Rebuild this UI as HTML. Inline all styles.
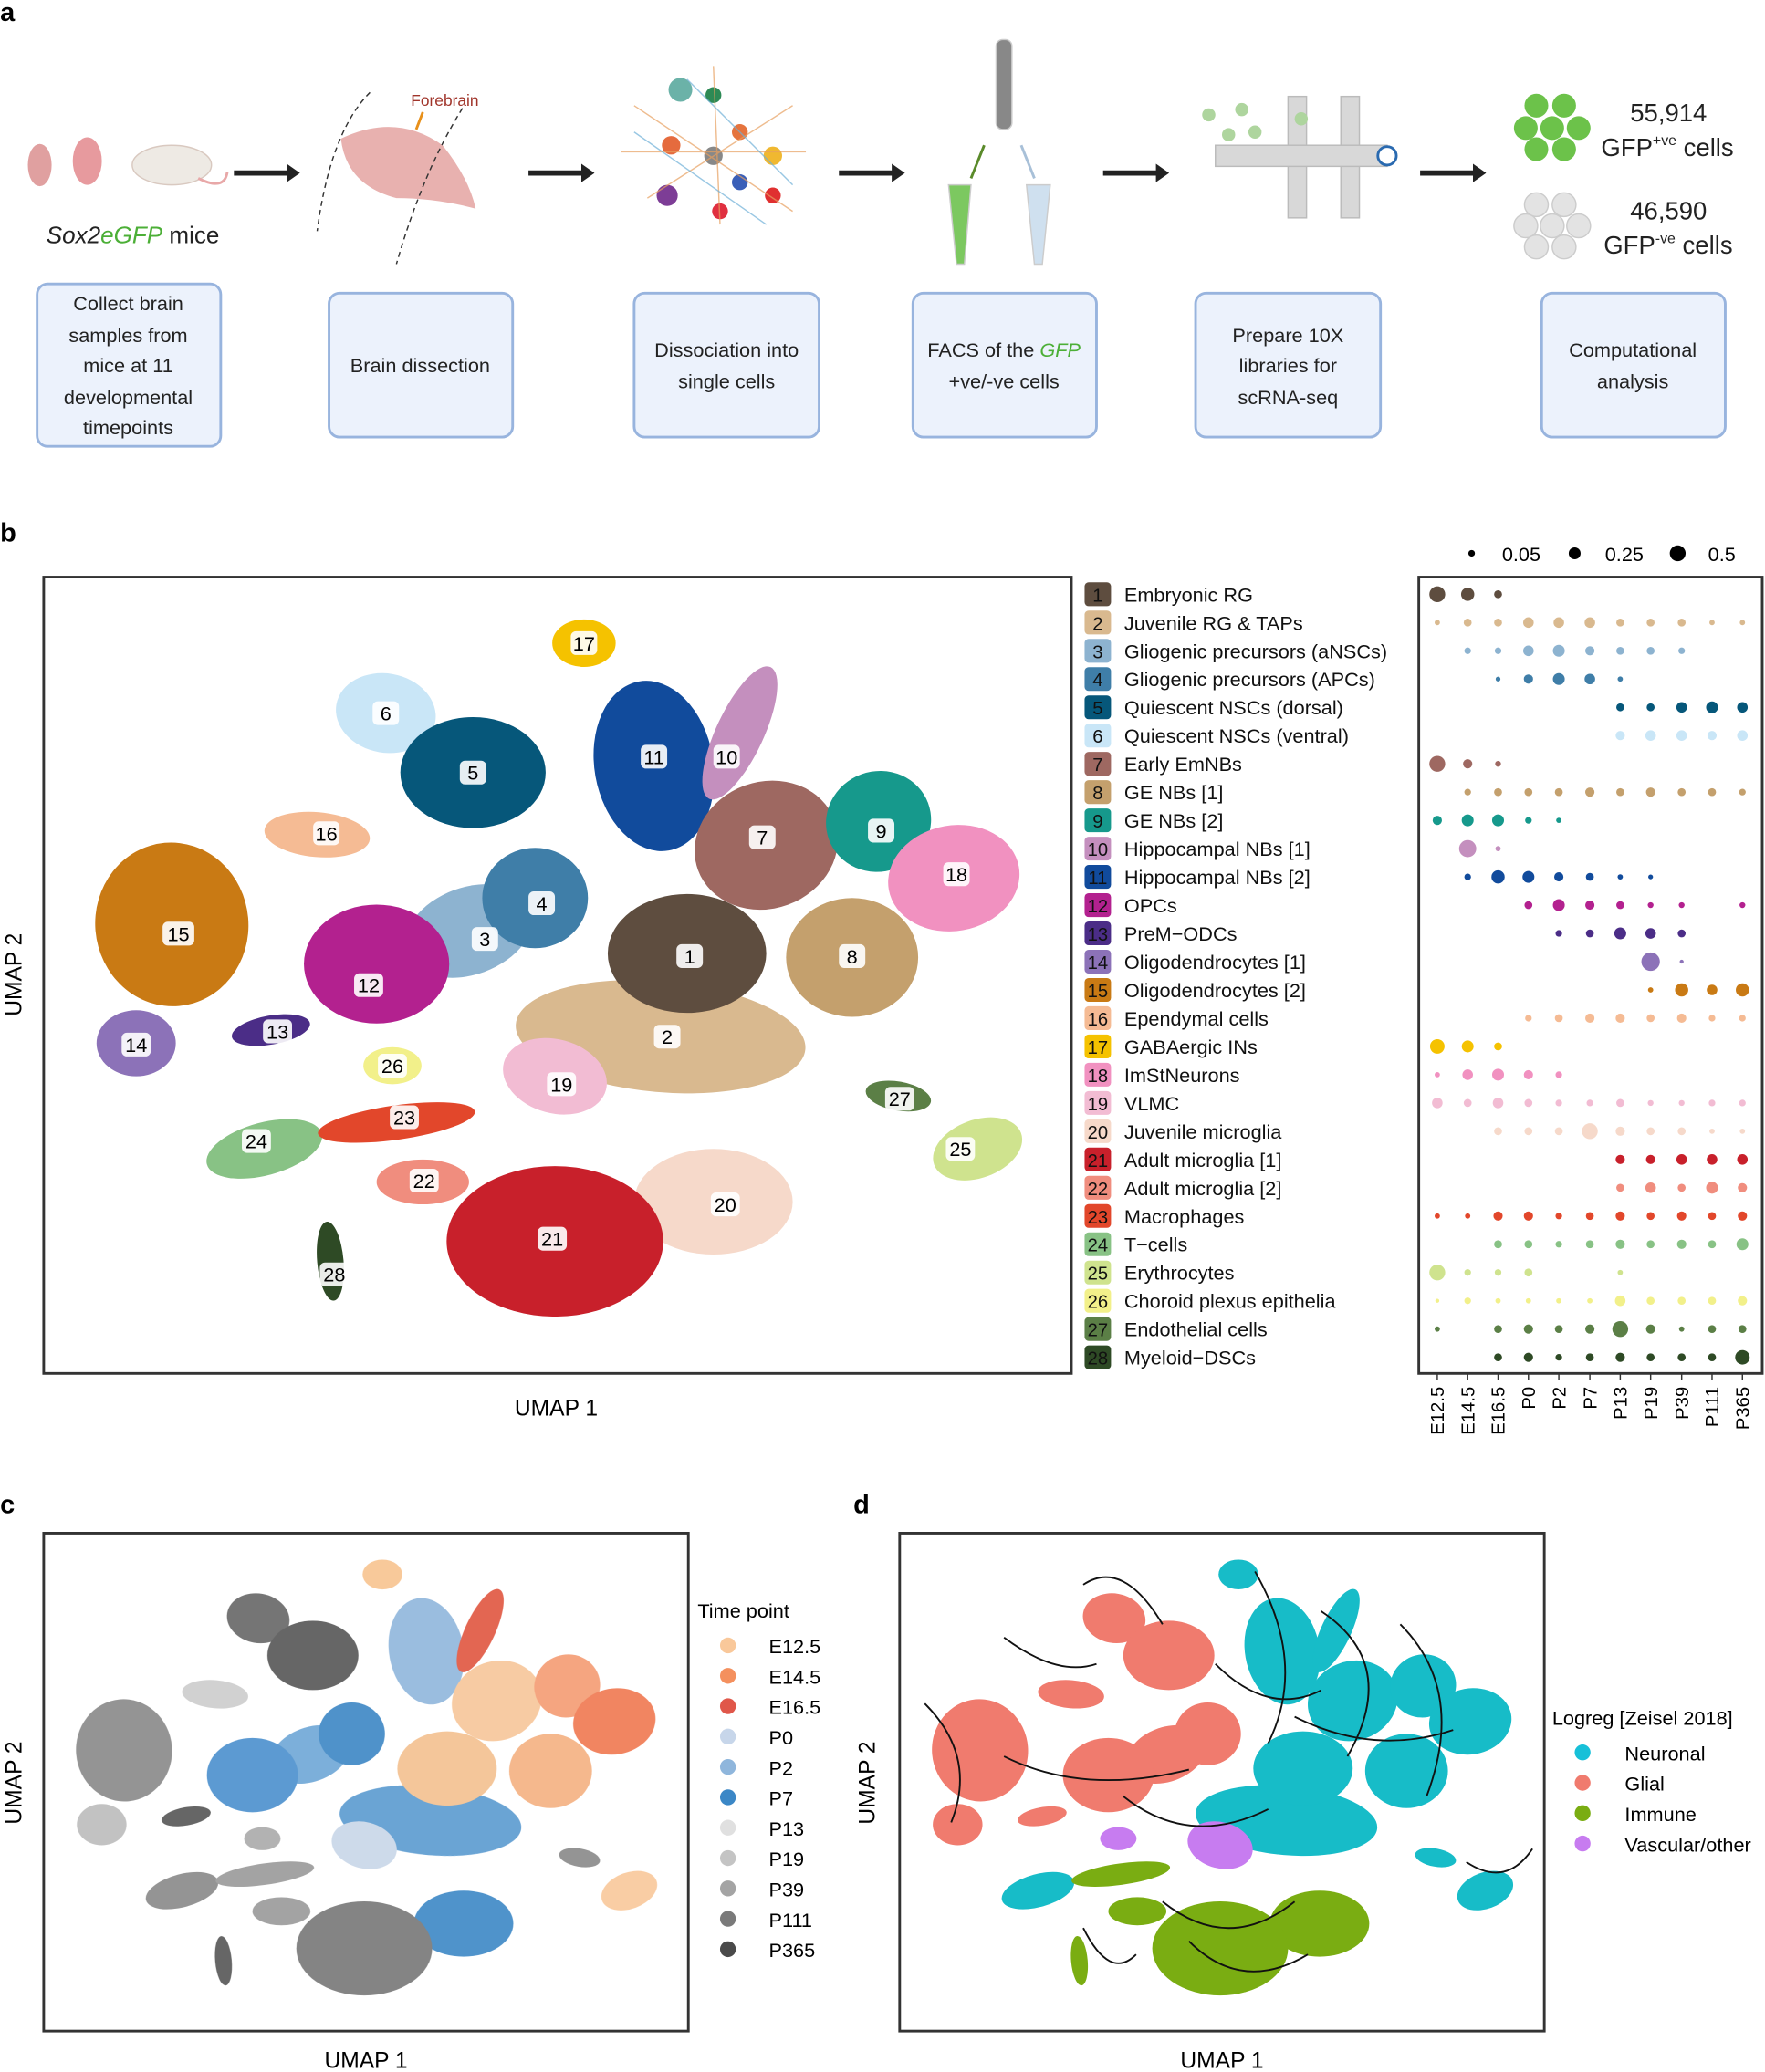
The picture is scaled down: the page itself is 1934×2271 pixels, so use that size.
<!DOCTYPE html>
<html><head><meta charset="utf-8"><style>
html,body{margin:0;padding:0;background:#fff}
svg{display:block}
text{font-family:"Liberation Sans",sans-serif}
.lb rect{fill:#fff;opacity:.9}
.lb text{font-size:15px;text-anchor:middle}
.lg text.n{font-size:14px;text-anchor:middle;fill:#111}
.lg text.t{font-size:15px;fill:#111}
</style></head><body>
<svg xmlns="http://www.w3.org/2000/svg" width="1934" height="2271" viewBox="0 0 1336 1569">
<rect width="1336" height="1569" fill="#fff"/>
<g font-weight="bold" font-size="20" fill="#000">
<text x="0" y="16">a</text><text x="0" y="410">b</text><text x="0" y="1146">c</text><text x="646" y="1146">d</text>
</g>
<!-- panel a -->
<g>
<ellipse cx="30" cy="125" rx="9" ry="16" fill="#e0a0a0"/>
<ellipse cx="66" cy="122" rx="11" ry="18" fill="#e79a9e"/>
<ellipse cx="130" cy="125" rx="30" ry="15" fill="#eeeae4" stroke="#d9c9c0"/>
<path d="M150 135 Q170 145 172 130" stroke="#e8a8a8" fill="none" stroke-width="2"/>
<text x="35" y="184" font-size="18" font-style="italic" fill="#222">Sox2<tspan fill="#4caf37">eGFP</tspan><tspan font-style="normal"> mice</tspan></text>
<path d="M258 105 Q300 85 335 110 Q355 135 360 158 Q330 150 300 150 Q262 140 258 105Z" fill="#e6a9a6" opacity="0.9"/>
<text x="311" y="80" font-size="12" fill="#a0342a">Forebrain</text>
<line x1="320" y1="85" x2="315" y2="98" stroke="#e8901a" stroke-width="2"/>
<path d="M280 70 Q250 100 240 175" stroke="#333" stroke-dasharray="4 3" fill="none"/>
<path d="M350 82 Q320 130 300 200" stroke="#333" stroke-dasharray="4 3" fill="none"/>
<circle cx="515" cy="68" r="9" fill="#6bb2a8"/><circle cx="540" cy="72" r="6" fill="#2d8a55"/>
<circle cx="508" cy="110" r="7" fill="#e56b3e"/><circle cx="540" cy="118" r="7" fill="#888"/>
<circle cx="585" cy="118" r="7" fill="#f0b830"/><circle cx="505" cy="148" r="8" fill="#7d3d96"/>
<circle cx="560" cy="138" r="6" fill="#3a5fb8"/><circle cx="585" cy="148" r="6" fill="#e03030"/>
<circle cx="545" cy="160" r="6" fill="#e03040"/><circle cx="560" cy="100" r="6" fill="#e5743e"/>
<path d="M480 80 L600 160 M490 150 L600 80 M540 50 L545 170 M470 115 L610 115" stroke="#e8a060" stroke-width="1" opacity="0.7"/>
<path d="M480 100 L580 170 M520 60 L600 140" stroke="#6fb0d8" stroke-width="1" opacity="0.7"/>
<rect x="754" y="30" width="12" height="68" rx="5" fill="#888" stroke="#ccc"/>
<path d="M718 140 L735 140 L730 200 L724 200 Z" fill="#7cc860" stroke="#ccc"/>
<path d="M777 140 L795 140 L789 200 L783 200 Z" fill="#cfe0ef" stroke="#ccc"/>
<line x1="745" y1="110" x2="735" y2="135" stroke="#5a8a2a" stroke-width="2"/>
<line x1="773" y1="110" x2="783" y2="135" stroke="#a8c0d8" stroke-width="2"/>
<rect x="975" y="73" width="14" height="92" fill="#d8d8d8" stroke="#bbb"/>
<rect x="1015" y="73" width="14" height="92" fill="#d8d8d8" stroke="#bbb"/>
<rect x="920" y="110" width="130" height="16" fill="#d8d8d8" stroke="#bbb"/>
<circle cx="1050" cy="118" r="7" fill="#fff" stroke="#2a6ab0" stroke-width="2"/>
<g fill="#aed59e"><circle cx="915" cy="87" r="5"/><circle cx="940" cy="83" r="5"/><circle cx="930" cy="102" r="5"/><circle cx="950" cy="100" r="5"/><circle cx="985" cy="90" r="5"/></g>
<g fill="#6cc24a"><circle cx="1163" cy="80" r="9"/><circle cx="1184" cy="80" r="9"/><circle cx="1155" cy="97" r="9"/><circle cx="1175" cy="97" r="9"/><circle cx="1195" cy="97" r="9"/><circle cx="1163" cy="113" r="9"/><circle cx="1184" cy="113" r="9"/></g>
<g fill="#e3e3e3" stroke="#ccc"><circle cx="1163" cy="155" r="9"/><circle cx="1184" cy="155" r="9"/><circle cx="1155" cy="171" r="9"/><circle cx="1175" cy="171" r="9"/><circle cx="1195" cy="171" r="9"/><circle cx="1163" cy="187" r="9"/><circle cx="1184" cy="187" r="9"/></g>
<text x="1234" y="92" font-size="19" fill="#222">55,914</text>
<text x="1212" y="118" font-size="19" fill="#222">GFP<tspan font-size="11" dy="-8">+ve</tspan><tspan dy="8"> cells</tspan></text>
<text x="1234" y="166" font-size="19" fill="#222">46,590</text>
<text x="1214" y="192" font-size="19" fill="#222">GFP<tspan font-size="11" dy="-8">-ve</tspan><tspan dy="8"> cells</tspan></text>
<g fill="#222"><path d="M177 129 h40 v-5 l10 7 -10 7 v-5 h-40z"/><path d="M400 129 h40 v-5 l10 7 -10 7 v-5 h-40z"/><path d="M635 129 h40 v-5 l10 7 -10 7 v-5 h-40z"/><path d="M835 129 h40 v-5 l10 7 -10 7 v-5 h-40z"/><path d="M1075 129 h40 v-5 l10 7 -10 7 v-5 h-40z"/></g>
<g fill="#ecf2fc" stroke="#98b4de" stroke-width="2">
<rect x="28" y="215" width="139" height="123" rx="8"/><rect x="249" y="222" width="139" height="109" rx="8"/><rect x="480" y="222" width="140" height="109" rx="8"/><rect x="691" y="222" width="139" height="109" rx="8"/><rect x="905" y="222" width="140" height="109" rx="8"/><rect x="1167" y="222" width="139" height="109" rx="8"/>
</g>
<g font-size="15" fill="#222" text-anchor="middle">
<text x="97" y="235">Collect brain</text><text x="97" y="259">samples from</text><text x="97" y="282">mice at 11</text><text x="97" y="306">developmental</text><text x="97" y="329">timepoints</text>
<text x="318" y="282">Brain dissection</text>
<text x="550" y="270">Dissociation into</text><text x="550" y="294">single cells</text>
<text x="760" y="270">FACS of the <tspan fill="#4caf37" font-style="italic">GFP</tspan></text><text x="760" y="294">+ve/-ve cells</text>
<text x="975" y="259">Prepare 10X</text><text x="975" y="282">libraries for</text><text x="975" y="306">scRNA-seq</text>
<text x="1236" y="270">Computational</text><text x="1236" y="294">analysis</text>
</g>
</g>

<!-- panel b UMAP -->
<g>
<ellipse cx="500" cy="785" rx="110" ry="42" transform="rotate(5 500 785)" fill="#d9b98f"/>
<ellipse cx="442" cy="487" rx="24" ry="18" fill="#f5c200"/>
<ellipse cx="292" cy="540" rx="38" ry="30" transform="rotate(10 292 540)" fill="#c9e6f7"/>
<ellipse cx="358" cy="585" rx="55" ry="42" fill="#06577a"/>
<ellipse cx="495" cy="580" rx="45" ry="65" transform="rotate(-10 495 580)" fill="#114b9c"/>
<ellipse cx="560" cy="555" rx="18" ry="55" transform="rotate(25 560 555)" fill="#c48fbe"/>
<ellipse cx="580" cy="640" rx="55" ry="48" transform="rotate(-20 580 640)" fill="#9e6861"/>
<ellipse cx="665" cy="622" rx="40" ry="38" transform="rotate(-20 665 622)" fill="#16998c"/>
<ellipse cx="722" cy="665" rx="50" ry="40" transform="rotate(-10 722 665)" fill="#f191c0"/>
<ellipse cx="240" cy="632" rx="40" ry="17" transform="rotate(5 240 632)" fill="#f5bb94"/>
<ellipse cx="355" cy="705" rx="50" ry="33" transform="rotate(-20 355 705)" fill="#8db3d0"/>
<ellipse cx="405" cy="680" rx="40" ry="38" fill="#3f7ea8"/>
<ellipse cx="520" cy="722" rx="60" ry="45" fill="#5e4d3f"/>
<ellipse cx="645" cy="725" rx="50" ry="45" fill="#c4a06d"/>
<ellipse cx="130" cy="700" rx="58" ry="62" transform="rotate(-5 130 700)" fill="#c97a14"/>
<ellipse cx="285" cy="730" rx="55" ry="45" fill="#b3218f"/>
<ellipse cx="103" cy="790" rx="30" ry="25" fill="#8c72b8"/>
<ellipse cx="205" cy="780" rx="30" ry="11" transform="rotate(-10 205 780)" fill="#4b2d87"/>
<ellipse cx="297" cy="807" rx="22" ry="14" fill="#f2f08a"/>
<ellipse cx="420" cy="815" rx="40" ry="28" transform="rotate(15 420 815)" fill="#f2bcd3"/>
<ellipse cx="680" cy="830" rx="25" ry="11" transform="rotate(10 680 830)" fill="#5b7f46"/>
<ellipse cx="740" cy="870" rx="35" ry="22" transform="rotate(-20 740 870)" fill="#cfe38e"/>
<ellipse cx="200" cy="870" rx="45" ry="20" transform="rotate(-15 200 870)" fill="#88c285"/>
<ellipse cx="300" cy="850" rx="60" ry="13" transform="rotate(-8 300 850)" fill="#e2472b"/>
<ellipse cx="320" cy="895" rx="35" ry="17" fill="#f08d7e"/>
<ellipse cx="540" cy="910" rx="60" ry="40" fill="#f6d9ca"/>
<ellipse cx="420" cy="940" rx="82" ry="57" fill="#c8202b"/>
<ellipse cx="250" cy="955" rx="10" ry="30" transform="rotate(-5 250 955)" fill="#2e4a25"/>
</g>
<g class="lb">
<rect x="432" y="478" width="20" height="18" rx="4"/><text x="442" y="492.5">17</text>
<rect x="282" y="531" width="20" height="18" rx="4"/><text x="292" y="545.5">6</text>
<rect x="348" y="576" width="20" height="18" rx="4"/><text x="358" y="590.5">5</text>
<rect x="485" y="564" width="20" height="18" rx="4"/><text x="495" y="578.5">11</text>
<rect x="540" y="564" width="20" height="18" rx="4"/><text x="550" y="578.5">10</text>
<rect x="567" y="625" width="20" height="18" rx="4"/><text x="577" y="639.5">7</text>
<rect x="657" y="620" width="20" height="18" rx="4"/><text x="667" y="634.5">9</text>
<rect x="714" y="653" width="20" height="18" rx="4"/><text x="724" y="667.5">18</text>
<rect x="237" y="622" width="20" height="18" rx="4"/><text x="247" y="636.5">16</text>
<rect x="400" y="675" width="20" height="18" rx="4"/><text x="410" y="689.5">4</text>
<rect x="357" y="702" width="20" height="18" rx="4"/><text x="367" y="716.5">3</text>
<rect x="512" y="715" width="20" height="18" rx="4"/><text x="522" y="729.5">1</text>
<rect x="635" y="715" width="20" height="18" rx="4"/><text x="645" y="729.5">8</text>
<rect x="123" y="698" width="24" height="18" rx="4"/><text x="135" y="712.5">15</text>
<rect x="268" y="737" width="22" height="18" rx="4"/><text x="279" y="751.5">12</text>
<rect x="495" y="776" width="20" height="18" rx="4"/><text x="505" y="790.5">2</text>
<rect x="92" y="782" width="22" height="18" rx="4"/><text x="103" y="796.5">14</text>
<rect x="199" y="772" width="22" height="18" rx="4"/><text x="210" y="786.5">13</text>
<rect x="286" y="798" width="22" height="18" rx="4"/><text x="297" y="812.5">26</text>
<rect x="414" y="812" width="22" height="18" rx="4"/><text x="425" y="826.5">19</text>
<rect x="670" y="823" width="22" height="18" rx="4"/><text x="681" y="837.5">27</text>
<rect x="716" y="861" width="22" height="18" rx="4"/><text x="727" y="875.5">25</text>
<rect x="183" y="855" width="22" height="18" rx="4"/><text x="194" y="869.5">24</text>
<rect x="295" y="837" width="22" height="18" rx="4"/><text x="306" y="851.5">23</text>
<rect x="310" y="885" width="22" height="18" rx="4"/><text x="321" y="899.5">22</text>
<rect x="538" y="903" width="22" height="18" rx="4"/><text x="549" y="917.5">20</text>
<rect x="407" y="929" width="22" height="18" rx="4"/><text x="418" y="943.5">21</text>
<rect x="242" y="956" width="22" height="18" rx="4"/><text x="253" y="970.5">28</text>
</g>

<!-- panel c UMAP -->
<g transform="translate(12.3,887.9) scale(0.627,0.625)" opacity="0.9">
<ellipse cx="500" cy="785" rx="110" ry="42" transform="rotate(5 500 785)" fill="#5a9ad0"/>
<ellipse cx="442" cy="487" rx="24" ry="18" fill="#f8c38f"/>
<ellipse cx="292" cy="540" rx="38" ry="30" transform="rotate(10 292 540)" fill="#666"/>
<ellipse cx="358" cy="585" rx="55" ry="42" fill="#555"/>
<ellipse cx="495" cy="580" rx="45" ry="65" transform="rotate(-10 495 580)" fill="#8fb6dc"/>
<ellipse cx="560" cy="555" rx="18" ry="55" transform="rotate(25 560 555)" fill="#e0553f"/>
<ellipse cx="580" cy="640" rx="55" ry="48" transform="rotate(-20 580 640)" fill="#f7c699"/>
<ellipse cx="665" cy="622" rx="40" ry="38" transform="rotate(-20 665 622)" fill="#f49b72"/>
<ellipse cx="722" cy="665" rx="50" ry="40" transform="rotate(-10 722 665)" fill="#f07850"/>
<ellipse cx="240" cy="632" rx="40" ry="17" transform="rotate(5 240 632)" fill="#ccc"/>
<ellipse cx="355" cy="705" rx="50" ry="33" transform="rotate(-20 355 705)" fill="#6ea6d6"/>
<ellipse cx="405" cy="680" rx="40" ry="38" fill="#3c86c5"/>
<ellipse cx="520" cy="722" rx="60" ry="45" fill="#f3c08f"/>
<ellipse cx="645" cy="725" rx="50" ry="45" fill="#f4b080"/>
<ellipse cx="130" cy="700" rx="58" ry="62" transform="rotate(-5 130 700)" fill="#888"/>
<ellipse cx="285" cy="730" rx="55" ry="45" fill="#4a8fcd"/>
<ellipse cx="103" cy="790" rx="30" ry="25" fill="#bbb"/>
<ellipse cx="205" cy="780" rx="30" ry="11" transform="rotate(-10 205 780)" fill="#555"/>
<ellipse cx="297" cy="807" rx="22" ry="14" fill="#aaa"/>
<ellipse cx="420" cy="815" rx="40" ry="28" transform="rotate(15 420 815)" fill="#c8d6e8"/>
<ellipse cx="680" cy="830" rx="25" ry="11" transform="rotate(10 680 830)" fill="#888"/>
<ellipse cx="740" cy="870" rx="35" ry="22" transform="rotate(-20 740 870)" fill="#f9c89a"/>
<ellipse cx="200" cy="870" rx="45" ry="20" transform="rotate(-15 200 870)" fill="#888"/>
<ellipse cx="300" cy="850" rx="60" ry="13" transform="rotate(-8 300 850)" fill="#999"/>
<ellipse cx="320" cy="895" rx="35" ry="17" fill="#999"/>
<ellipse cx="540" cy="910" rx="60" ry="40" fill="#3b87c6"/>
<ellipse cx="420" cy="940" rx="82" ry="57" fill="#777"/>
<ellipse cx="250" cy="955" rx="10" ry="30" transform="rotate(-5 250 955)" fill="#555"/>
</g>

<!-- panel d UMAP -->
<g transform="translate(660.3,887.9) scale(0.627,0.625)">
<ellipse cx="500" cy="785" rx="110" ry="42" transform="rotate(5 500 785)" fill="#17bcc8"/>
<ellipse cx="442" cy="487" rx="24" ry="18" fill="#17bcc8"/>
<ellipse cx="292" cy="540" rx="38" ry="30" transform="rotate(10 292 540)" fill="#f07b6e"/>
<ellipse cx="358" cy="585" rx="55" ry="42" fill="#f07b6e"/>
<ellipse cx="495" cy="580" rx="45" ry="65" transform="rotate(-10 495 580)" fill="#17bcc8"/>
<ellipse cx="560" cy="555" rx="18" ry="55" transform="rotate(25 560 555)" fill="#17bcc8"/>
<ellipse cx="580" cy="640" rx="55" ry="48" transform="rotate(-20 580 640)" fill="#17bcc8"/>
<ellipse cx="665" cy="622" rx="40" ry="38" transform="rotate(-20 665 622)" fill="#17bcc8"/>
<ellipse cx="722" cy="665" rx="50" ry="40" transform="rotate(-10 722 665)" fill="#17bcc8"/>
<ellipse cx="240" cy="632" rx="40" ry="17" transform="rotate(5 240 632)" fill="#f07b6e"/>
<ellipse cx="355" cy="705" rx="50" ry="33" transform="rotate(-20 355 705)" fill="#f07b6e"/>
<ellipse cx="405" cy="680" rx="40" ry="38" fill="#f07b6e"/>
<ellipse cx="520" cy="722" rx="60" ry="45" fill="#17bcc8"/>
<ellipse cx="645" cy="725" rx="50" ry="45" fill="#17bcc8"/>
<ellipse cx="130" cy="700" rx="58" ry="62" transform="rotate(-5 130 700)" fill="#f07b6e"/>
<ellipse cx="285" cy="730" rx="55" ry="45" fill="#f07b6e"/>
<ellipse cx="103" cy="790" rx="30" ry="25" fill="#f07b6e"/>
<ellipse cx="205" cy="780" rx="30" ry="11" transform="rotate(-10 205 780)" fill="#f07b6e"/>
<ellipse cx="297" cy="807" rx="22" ry="14" fill="#c77cf0"/>
<ellipse cx="420" cy="815" rx="40" ry="28" transform="rotate(15 420 815)" fill="#c77cf0"/>
<ellipse cx="680" cy="830" rx="25" ry="11" transform="rotate(10 680 830)" fill="#17bcc8"/>
<ellipse cx="740" cy="870" rx="35" ry="22" transform="rotate(-20 740 870)" fill="#17bcc8"/>
<ellipse cx="200" cy="870" rx="45" ry="20" transform="rotate(-15 200 870)" fill="#17bcc8"/>
<ellipse cx="300" cy="850" rx="60" ry="13" transform="rotate(-8 300 850)" fill="#7aad12"/>
<ellipse cx="320" cy="895" rx="35" ry="17" fill="#7aad12"/>
<ellipse cx="540" cy="910" rx="60" ry="40" fill="#7aad12"/>
<ellipse cx="420" cy="940" rx="82" ry="57" fill="#7aad12"/>
<ellipse cx="250" cy="955" rx="10" ry="30" transform="rotate(-5 250 955)" fill="#7aad12"/>
</g>
<g fill="none" stroke="#111" stroke-width="1.3">
<path d="M820 1200 Q850 1180 880 1230"/><path d="M950 1190 Q990 1260 960 1320"/><path d="M1000 1220 Q1060 1260 1020 1330"/>
<path d="M1060 1230 Q1110 1280 1080 1360"/><path d="M700 1290 Q740 1330 720 1380"/><path d="M760 1330 Q820 1360 900 1340"/>
<path d="M850 1360 Q900 1400 960 1370"/><path d="M880 1440 Q930 1480 980 1440"/><path d="M900 1470 Q940 1510 990 1480"/>
<path d="M920 1260 Q960 1300 1000 1280"/><path d="M1110 1410 Q1140 1430 1160 1400"/><path d="M820 1460 Q840 1500 860 1480"/>
<path d="M980 1300 Q1040 1330 1100 1310"/><path d="M760 1240 Q800 1270 830 1260"/>
</g>

<!-- frames -->
<g fill="none" stroke="#333" stroke-width="2">
<rect x="33" y="437" width="778" height="603"/>
<rect x="1074" y="437" width="260" height="603"/>
<rect x="33" y="1161" width="488" height="377"/>
<rect x="681" y="1161" width="488" height="377"/>
</g>
<g font-size="17" fill="#000" text-anchor="middle">
<text x="421" y="1072">UMAP 1</text>
<text transform="translate(16,738) rotate(-90)">UMAP 2</text>
<text x="277" y="1566">UMAP 1</text>
<text transform="translate(16,1350) rotate(-90)">UMAP 2</text>
<text x="925" y="1566">UMAP 1</text>
<text transform="translate(662,1350) rotate(-90)">UMAP 2</text>
</g>

<!-- legend b -->
<g class="lg">
<g transform="translate(0,450)"><rect x="821" y="-9" width="20" height="18" rx="3" fill="#5e4d3f"/><text class="n" x="831" y="5.5">1</text><text class="t" x="851" y="5.5">Embryonic RG</text></g>
<g transform="translate(0,471.4)"><rect x="821" y="-9" width="20" height="18" rx="3" fill="#d9b98f"/><text class="n" x="831" y="5.5">2</text><text class="t" x="851" y="5.5">Juvenile RG &amp; TAPs</text></g>
<g transform="translate(0,492.8)"><rect x="821" y="-9" width="20" height="18" rx="3" fill="#8db3d0"/><text class="n" x="831" y="5.5">3</text><text class="t" x="851" y="5.5">Gliogenic precursors (aNSCs)</text></g>
<g transform="translate(0,514.2)"><rect x="821" y="-9" width="20" height="18" rx="3" fill="#3f7ea8"/><text class="n" x="831" y="5.5">4</text><text class="t" x="851" y="5.5">Gliogenic precursors (APCs)</text></g>
<g transform="translate(0,535.6)"><rect x="821" y="-9" width="20" height="18" rx="3" fill="#06577a"/><text class="n" x="831" y="5.5">5</text><text class="t" x="851" y="5.5">Quiescent NSCs (dorsal)</text></g>
<g transform="translate(0,557)"><rect x="821" y="-9" width="20" height="18" rx="3" fill="#c9e6f7"/><text class="n" x="831" y="5.5">6</text><text class="t" x="851" y="5.5">Quiescent NSCs (ventral)</text></g>
<g transform="translate(0,578.4)"><rect x="821" y="-9" width="20" height="18" rx="3" fill="#9e6861"/><text class="n" x="831" y="5.5">7</text><text class="t" x="851" y="5.5">Early EmNBs</text></g>
<g transform="translate(0,599.8)"><rect x="821" y="-9" width="20" height="18" rx="3" fill="#c4a06d"/><text class="n" x="831" y="5.5">8</text><text class="t" x="851" y="5.5">GE NBs [1]</text></g>
<g transform="translate(0,621.2)"><rect x="821" y="-9" width="20" height="18" rx="3" fill="#16998c"/><text class="n" x="831" y="5.5">9</text><text class="t" x="851" y="5.5">GE NBs [2]</text></g>
<g transform="translate(0,642.6)"><rect x="821" y="-9" width="20" height="18" rx="3" fill="#c48fbe"/><text class="n" x="831" y="5.5">10</text><text class="t" x="851" y="5.5">Hippocampal NBs [1]</text></g>
<g transform="translate(0,664)"><rect x="821" y="-9" width="20" height="18" rx="3" fill="#114b9c"/><text class="n" x="831" y="5.5">11</text><text class="t" x="851" y="5.5">Hippocampal NBs [2]</text></g>
<g transform="translate(0,685.4)"><rect x="821" y="-9" width="20" height="18" rx="3" fill="#b3218f"/><text class="n" x="831" y="5.5">12</text><text class="t" x="851" y="5.5">OPCs</text></g>
<g transform="translate(0,706.8)"><rect x="821" y="-9" width="20" height="18" rx="3" fill="#4b2d87"/><text class="n" x="831" y="5.5">13</text><text class="t" x="851" y="5.5">PreM−ODCs</text></g>
<g transform="translate(0,728.2)"><rect x="821" y="-9" width="20" height="18" rx="3" fill="#8c72b8"/><text class="n" x="831" y="5.5">14</text><text class="t" x="851" y="5.5">Oligodendrocytes [1]</text></g>
<g transform="translate(0,749.6)"><rect x="821" y="-9" width="20" height="18" rx="3" fill="#c97a14"/><text class="n" x="831" y="5.5">15</text><text class="t" x="851" y="5.5">Oligodendrocytes [2]</text></g>
<g transform="translate(0,771)"><rect x="821" y="-9" width="20" height="18" rx="3" fill="#f5bb94"/><text class="n" x="831" y="5.5">16</text><text class="t" x="851" y="5.5">Ependymal cells</text></g>
<g transform="translate(0,792.4)"><rect x="821" y="-9" width="20" height="18" rx="3" fill="#f5c200"/><text class="n" x="831" y="5.5">17</text><text class="t" x="851" y="5.5">GABAergic INs</text></g>
<g transform="translate(0,813.8)"><rect x="821" y="-9" width="20" height="18" rx="3" fill="#f191c0"/><text class="n" x="831" y="5.5">18</text><text class="t" x="851" y="5.5">ImStNeurons</text></g>
<g transform="translate(0,835.2)"><rect x="821" y="-9" width="20" height="18" rx="3" fill="#f2bcd3"/><text class="n" x="831" y="5.5">19</text><text class="t" x="851" y="5.5">VLMC</text></g>
<g transform="translate(0,856.6)"><rect x="821" y="-9" width="20" height="18" rx="3" fill="#f6d9ca"/><text class="n" x="831" y="5.5">20</text><text class="t" x="851" y="5.5">Juvenile microglia</text></g>
<g transform="translate(0,878)"><rect x="821" y="-9" width="20" height="18" rx="3" fill="#c8202b"/><text class="n" x="831" y="5.5">21</text><text class="t" x="851" y="5.5">Adult microglia [1]</text></g>
<g transform="translate(0,899.4)"><rect x="821" y="-9" width="20" height="18" rx="3" fill="#f08d7e"/><text class="n" x="831" y="5.5">22</text><text class="t" x="851" y="5.5">Adult microglia [2]</text></g>
<g transform="translate(0,920.8)"><rect x="821" y="-9" width="20" height="18" rx="3" fill="#e2472b"/><text class="n" x="831" y="5.5">23</text><text class="t" x="851" y="5.5">Macrophages</text></g>
<g transform="translate(0,942.2)"><rect x="821" y="-9" width="20" height="18" rx="3" fill="#88c285"/><text class="n" x="831" y="5.5">24</text><text class="t" x="851" y="5.5">T−cells</text></g>
<g transform="translate(0,963.6)"><rect x="821" y="-9" width="20" height="18" rx="3" fill="#cfe38e"/><text class="n" x="831" y="5.5">25</text><text class="t" x="851" y="5.5">Erythrocytes</text></g>
<g transform="translate(0,985)"><rect x="821" y="-9" width="20" height="18" rx="3" fill="#f2f08a"/><text class="n" x="831" y="5.5">26</text><text class="t" x="851" y="5.5">Choroid plexus epithelia</text></g>
<g transform="translate(0,1006.4)"><rect x="821" y="-9" width="20" height="18" rx="3" fill="#5b7f46"/><text class="n" x="831" y="5.5">27</text><text class="t" x="851" y="5.5">Endothelial cells</text></g>
<g transform="translate(0,1027.8)"><rect x="821" y="-9" width="20" height="18" rx="3" fill="#2e4a25"/><text class="n" x="831" y="5.5">28</text><text class="t" x="851" y="5.5">Myeloid−DSCs</text></g>
</g>

<!-- dot plot (cols x: 1088 1111 1134 1157 1180 1203.5 1226.5 1249.5 1273 1296 1319) -->
<g>
<g transform="translate(0,450)" fill="#5e4d3f"><circle cx="1088" r="6"/><circle cx="1111" r="5"/><circle cx="1134" r="3"/></g>
<g transform="translate(0,471.4)" fill="#d9b98f"><circle cx="1088" r="2"/><circle cx="1111" r="3"/><circle cx="1134" r="3"/><circle cx="1157" r="4"/><circle cx="1180" r="4"/><circle cx="1203.5" r="4"/><circle cx="1226.5" r="3"/><circle cx="1249.5" r="3"/><circle cx="1273" r="3"/><circle cx="1296" r="2"/><circle cx="1319" r="2"/></g>
<g transform="translate(0,492.8)" fill="#8db3d0"><circle cx="1111" r="2.5"/><circle cx="1134" r="2.5"/><circle cx="1157" r="4"/><circle cx="1180" r="4.5"/><circle cx="1203.5" r="3.5"/><circle cx="1226.5" r="3"/><circle cx="1249.5" r="3"/><circle cx="1273" r="2.5"/></g>
<g transform="translate(0,514.2)" fill="#3f7ea8"><circle cx="1134" r="1.8"/><circle cx="1157" r="3.5"/><circle cx="1180" r="4.5"/><circle cx="1203.5" r="4"/><circle cx="1226.5" r="2"/></g>
<g transform="translate(0,535.6)" fill="#06577a"><circle cx="1226.5" r="3"/><circle cx="1249.5" r="3"/><circle cx="1273" r="4"/><circle cx="1296" r="4.5"/><circle cx="1319" r="4"/></g>
<g transform="translate(0,557)" fill="#c9e6f7"><circle cx="1226.5" r="3.5"/><circle cx="1249.5" r="4"/><circle cx="1273" r="4"/><circle cx="1296" r="3.5"/><circle cx="1319" r="4"/></g>
<g transform="translate(0,578.4)" fill="#9e6861"><circle cx="1088" r="6"/><circle cx="1111" r="3.5"/><circle cx="1134" r="2.2"/></g>
<g transform="translate(0,599.8)" fill="#c4a06d"><circle cx="1111" r="2.5"/><circle cx="1134" r="3"/><circle cx="1157" r="3"/><circle cx="1180" r="3"/><circle cx="1203.5" r="3.5"/><circle cx="1226.5" r="3"/><circle cx="1249.5" r="3.5"/><circle cx="1273" r="3"/><circle cx="1296" r="3"/><circle cx="1319" r="2.5"/></g>
<g transform="translate(0,621.2)" fill="#16998c"><circle cx="1088" r="3.5"/><circle cx="1111" r="4.5"/><circle cx="1134" r="4.5"/><circle cx="1157" r="2.5"/><circle cx="1180" r="2"/></g>
<g transform="translate(0,642.6)" fill="#c48fbe"><circle cx="1111" r="6.5"/><circle cx="1134" r="2"/></g>
<g transform="translate(0,664)" fill="#114b9c"><circle cx="1111" r="2.5"/><circle cx="1134" r="5"/><circle cx="1157" r="4.5"/><circle cx="1180" r="3.5"/><circle cx="1203.5" r="3"/><circle cx="1226.5" r="2"/><circle cx="1249.5" r="1.8"/></g>
<g transform="translate(0,685.4)" fill="#b3218f"><circle cx="1157" r="3"/><circle cx="1180" r="4.5"/><circle cx="1203.5" r="3.5"/><circle cx="1226.5" r="3"/><circle cx="1249.5" r="2.2"/><circle cx="1273" r="2.2"/><circle cx="1319" r="2.2"/></g>
<g transform="translate(0,706.8)" fill="#4b2d87"><circle cx="1180" r="2.5"/><circle cx="1203.5" r="3"/><circle cx="1226.5" r="4.5"/><circle cx="1249.5" r="4"/><circle cx="1273" r="3"/></g>
<g transform="translate(0,728.2)" fill="#8c72b8"><circle cx="1249.5" r="7"/><circle cx="1273" r="1.5"/></g>
<g transform="translate(0,749.6)" fill="#c97a14"><circle cx="1249.5" r="2"/><circle cx="1273" r="5"/><circle cx="1296" r="4"/><circle cx="1319" r="5"/></g>
<g transform="translate(0,771)" fill="#f5bb94"><circle cx="1157" r="2.5"/><circle cx="1180" r="3"/><circle cx="1203.5" r="3.5"/><circle cx="1226.5" r="3.5"/><circle cx="1249.5" r="3"/><circle cx="1273" r="3.5"/><circle cx="1296" r="2.5"/><circle cx="1319" r="2.5"/></g>
<g transform="translate(0,792.4)" fill="#f5c200"><circle cx="1088" r="5.5"/><circle cx="1111" r="4.5"/><circle cx="1134" r="3"/></g>
<g transform="translate(0,813.8)" fill="#f191c0"><circle cx="1088" r="2"/><circle cx="1111" r="4"/><circle cx="1134" r="4.5"/><circle cx="1157" r="3.5"/><circle cx="1180" r="2.5"/></g>
<g transform="translate(0,835.2)" fill="#f2bcd3"><circle cx="1088" r="4"/><circle cx="1111" r="3"/><circle cx="1134" r="4"/><circle cx="1157" r="3"/><circle cx="1180" r="2.5"/><circle cx="1203.5" r="2.5"/><circle cx="1226.5" r="3"/><circle cx="1249.5" r="2.2"/><circle cx="1273" r="2.2"/><circle cx="1296" r="2.5"/><circle cx="1319" r="2.5"/></g>
<g transform="translate(0,856.6)" fill="#f6d9ca"><circle cx="1134" r="3"/><circle cx="1157" r="3"/><circle cx="1180" r="3"/><circle cx="1203.5" r="6"/><circle cx="1226.5" r="3.5"/><circle cx="1249.5" r="3"/><circle cx="1273" r="3"/><circle cx="1296" r="2"/><circle cx="1319" r="2"/></g>
<g transform="translate(0,878)" fill="#c8202b"><circle cx="1226.5" r="3.5"/><circle cx="1249.5" r="3.5"/><circle cx="1273" r="4"/><circle cx="1296" r="4"/><circle cx="1319" r="4"/></g>
<g transform="translate(0,899.4)" fill="#f08d7e"><circle cx="1226.5" r="3"/><circle cx="1249.5" r="4"/><circle cx="1273" r="3"/><circle cx="1296" r="4.5"/><circle cx="1319" r="3.5"/></g>
<g transform="translate(0,920.8)" fill="#e2472b"><circle cx="1088" r="2"/><circle cx="1111" r="2"/><circle cx="1134" r="3.5"/><circle cx="1157" r="3.5"/><circle cx="1180" r="2.5"/><circle cx="1203.5" r="3"/><circle cx="1226.5" r="3.5"/><circle cx="1249.5" r="3"/><circle cx="1273" r="3.5"/><circle cx="1296" r="3"/><circle cx="1319" r="3.5"/></g>
<g transform="translate(0,942.2)" fill="#88c285"><circle cx="1134" r="3"/><circle cx="1157" r="3"/><circle cx="1180" r="2.5"/><circle cx="1203.5" r="3"/><circle cx="1226.5" r="3.5"/><circle cx="1249.5" r="3"/><circle cx="1273" r="3.5"/><circle cx="1296" r="3"/><circle cx="1319" r="4.5"/></g>
<g transform="translate(0,963.6)" fill="#cfe38e"><circle cx="1088" r="6"/><circle cx="1111" r="2.5"/><circle cx="1134" r="2.5"/><circle cx="1157" r="3"/><circle cx="1226.5" r="2"/></g>
<g transform="translate(0,985)" fill="#f2f08a"><circle cx="1088" r="1.5"/><circle cx="1111" r="2.5"/><circle cx="1134" r="2"/><circle cx="1157" r="2"/><circle cx="1180" r="2"/><circle cx="1203.5" r="2"/><circle cx="1226.5" r="4"/><circle cx="1249.5" r="3"/><circle cx="1273" r="3"/><circle cx="1296" r="3"/><circle cx="1319" r="3.5"/></g>
<g transform="translate(0,1006.4)" fill="#5b7f46"><circle cx="1088" r="2"/><circle cx="1134" r="3"/><circle cx="1157" r="3.5"/><circle cx="1180" r="3"/><circle cx="1203.5" r="3.5"/><circle cx="1226.5" r="6"/><circle cx="1249.5" r="3.5"/><circle cx="1273" r="2"/><circle cx="1296" r="3"/><circle cx="1319" r="3"/></g>
<g transform="translate(0,1027.8)" fill="#2e4a25"><circle cx="1134" r="3"/><circle cx="1157" r="3.5"/><circle cx="1180" r="2.5"/><circle cx="1203.5" r="3"/><circle cx="1226.5" r="3.5"/><circle cx="1249.5" r="3"/><circle cx="1273" r="3"/><circle cx="1296" r="3"/><circle cx="1319" r="5.5"/></g>
</g>
<g stroke="#333"><path d="M1088 1040v5M1111 1040v5M1134 1040v5M1157 1040v5M1180 1040v5M1203.5 1040v5M1226.5 1040v5M1249.5 1040v5M1273 1040v5M1296 1040v5M1319 1040v5"/></g>
<g font-size="14" text-anchor="end">
<text transform="translate(1093,1050) rotate(-90)">E12.5</text>
<text transform="translate(1116,1050) rotate(-90)">E14.5</text>
<text transform="translate(1139,1050) rotate(-90)">E16.5</text>
<text transform="translate(1162,1050) rotate(-90)">P0</text>
<text transform="translate(1185,1050) rotate(-90)">P2</text>
<text transform="translate(1208.5,1050) rotate(-90)">P7</text>
<text transform="translate(1231.5,1050) rotate(-90)">P13</text>
<text transform="translate(1254.5,1050) rotate(-90)">P19</text>
<text transform="translate(1278,1050) rotate(-90)">P39</text>
<text transform="translate(1301,1050) rotate(-90)">P111</text>
<text transform="translate(1324,1050) rotate(-90)">P365</text>
</g>
<g font-size="15"><circle cx="1114" cy="419" r="2.5"/><text x="1137" y="425">0.05</text><circle cx="1192" cy="419" r="4.5"/><text x="1215" y="425">0.25</text><circle cx="1270" cy="419" r="6"/><text x="1293" y="425">0.5</text></g>

<!-- c legend -->
<text x="528" y="1225" font-size="15">Time point</text>
<g font-size="15">
<circle cx="551" cy="1246" r="6" fill="#f9c89a"/><text x="582" y="1252">E12.5</text>
<circle cx="551" cy="1269" r="6" fill="#f4905e"/><text x="582" y="1275">E14.5</text>
<circle cx="551" cy="1292" r="6" fill="#e0574a"/><text x="582" y="1298">E16.5</text>
<circle cx="551" cy="1315" r="6" fill="#c7d6ea"/><text x="582" y="1321">P0</text>
<circle cx="551" cy="1338" r="6" fill="#8fb6dc"/><text x="582" y="1344">P2</text>
<circle cx="551" cy="1361" r="6" fill="#3b87c6"/><text x="582" y="1367">P7</text>
<circle cx="551" cy="1384" r="6" fill="#e0e0e0"/><text x="582" y="1390">P13</text>
<circle cx="551" cy="1407" r="6" fill="#c4c4c4"/><text x="582" y="1413">P19</text>
<circle cx="551" cy="1430" r="6" fill="#a4a4a4"/><text x="582" y="1436">P39</text>
<circle cx="551" cy="1453" r="6" fill="#7a7a7a"/><text x="582" y="1459">P111</text>
<circle cx="551" cy="1476" r="6" fill="#4a4a4a"/><text x="582" y="1482">P365</text>
</g>
<text x="1175" y="1306" font-size="15">Logreg [Zeisel 2018]</text>
<g font-size="15">
<circle cx="1198" cy="1327" r="6" fill="#17c0d8"/><text x="1230" y="1333">Neuronal</text>
<circle cx="1198" cy="1350" r="6" fill="#f07b6e"/><text x="1230" y="1356">Glial</text>
<circle cx="1198" cy="1373" r="6" fill="#7aad12"/><text x="1230" y="1379">Immune</text>
<circle cx="1198" cy="1396" r="6" fill="#c77cf0"/><text x="1230" y="1402">Vascular/other</text>
</g>
</svg>
</body></html>
